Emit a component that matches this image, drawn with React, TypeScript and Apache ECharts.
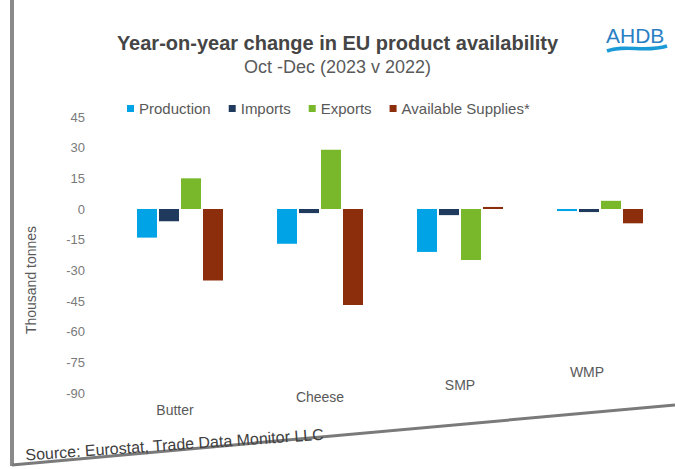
import React, { useEffect, useRef } from "react";
import * as echarts from "echarts";

const categories = ["Butter", "Cheese", "SMP", "WMP"];
const production = [-14, -17, -21, -1];
const imports = [-6, -2, -3, -1.5];
const exportsData = [15, 29, -25, 4];
const availableSupplies = [-35, -47, 1, -7];
const seriesNames = ["Production", "Imports", "Exports", "Available Supplies*"];
const colors = ["#00a3e6", "#1f3a5c", "#78b82a", "#8c2d0c"];

const labelKeys: Record<string, string> = { Butter: "a", Cheese: "b", SMP: "c", WMP: "d" };

export default function App() {
  const ref = useRef<HTMLDivElement>(null);
  useEffect(() => {
    if (!ref.current) return;
    const chart = echarts.init(ref.current, undefined, { renderer: "svg" });
    const data = [production, imports, exportsData, availableSupplies];
    const labelBase = { fontFamily: "Liberation Sans, Arial", fontSize: 14, color: "#595959" };
    chart.setOption({
      animation: false,
      backgroundColor: "#ffffff",
      title: {
        text: "Year-on-year change in EU product availability",
        subtext: "Oct -Dec (2023 v 2022)",
        left: "center",
        top: 28,
        itemGap: 5,
        textStyle: { fontFamily: "Liberation Sans, Arial", fontSize: 20, fontWeight: "bold", color: "#454545" },
        subtextStyle: { fontFamily: "Liberation Sans, Arial", fontSize: 18, color: "#5a5a5a" },
      },
      legend: {
        left: 122,
        top: 96,
        itemWidth: 7,
        itemHeight: 7,
        itemGap: 18,
        icon: "rect",
        data: seriesNames,
        textStyle: { fontFamily: "Liberation Sans, Arial", fontSize: 15, color: "#595959" },
      },
      grid: { left: 110, right: 5, top: 117, bottom: 76 },
      xAxis: {
        type: "category",
        data: categories,
        axisLine: { show: false, onZero: false },
        axisTick: { show: false },
        splitLine: { show: false },
        axisLabel: {
          margin: -28,
          formatter: (v: string) => `{${labelKeys[v] || "a"}|${v}}`,
          rich: {
            a: { ...labelBase, padding: [38, 10, 0, 0] },
            b: { ...labelBase, padding: [25, 0, 0, 0] },
            c: { ...labelBase, padding: [13, 0, 0, 0] },
            d: { ...labelBase, padding: [0, 26, 0, 0] },
          },
        },
      },
      yAxis: {
        type: "value",
        min: -90,
        max: 45,
        interval: 15,
        name: "Thousand tonnes",
        nameLocation: "middle",
        nameGap: 72,
        nameTextStyle: { fontFamily: "Liberation Sans, Arial", fontSize: 14, color: "#595959", padding: [0, 50, 0, 0] },
        axisLine: { show: false },
        axisTick: { show: false },
        splitLine: { show: false },
        axisLabel: { margin: 25, fontFamily: "Liberation Sans, Arial", fontSize: 13, color: "#7a7a7a" },
      },
      series: seriesNames.map((name, i) => ({
        name,
        type: "bar",
        data: data[i],
        barWidth: 20,
        barGap: "10%",
        itemStyle: { color: colors[i] },
      })),
      graphic: [
        { type: "rect", shape: { x: 10, y: 0, width: 4, height: 466 }, style: { fill: "#8a8a8a" } },
        { type: "line", shape: { x1: 12, y1: 465, x2: 675, y2: 405 }, style: { stroke: "#7a7a7a", lineWidth: 3 } },
        {
          type: "text",
          x: 26,
          y: 463,
          rotation: 0.07,
          style: {
            text: "Source: Eurostat, Trade Data Monitor LLC",
            fontFamily: "Liberation Sans, Arial",
            fontSize: 16,
            fill: "#404040",
            textVerticalAlign: "bottom",
          },
        },
        {
          type: "text",
          x: 606,
          y: 25,
          style: { text: "AHDB", fontFamily: "Liberation Sans, Arial", fontSize: 21, fill: "#2a7fc4" },
        },
        {
          type: "bezierCurve",
          shape: { x1: 607, y1: 51, cpx1: 625, cpy1: 44, cpx2: 645, cpy2: 53, x2: 667, y2: 46 },
          style: { stroke: "#1a9ad6", lineWidth: 3.5, fill: "none" },
        },
      ],
    });
    return () => chart.dispose();
  }, []);
  return <div ref={ref} style={{ position: "fixed", left: 0, top: 0, width: 675, height: 469 }} />;
}
